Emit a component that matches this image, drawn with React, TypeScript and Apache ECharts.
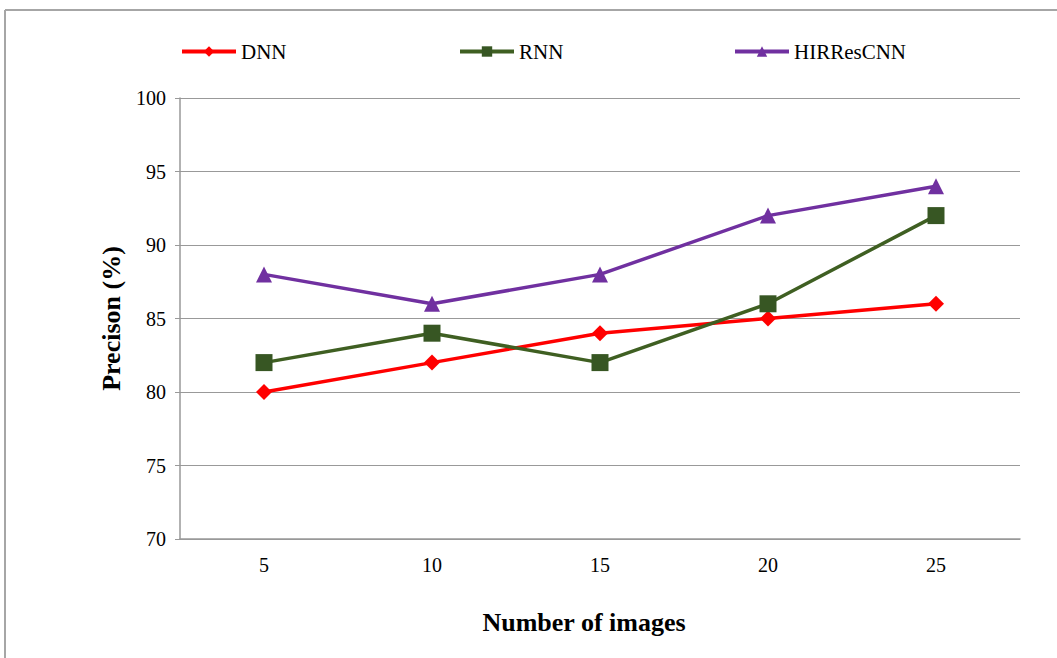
import React, { useEffect, useRef } from "react";
import * as echarts from "echarts";

const categories = ["5", "10", "15", "20", "25"];
const dnn = [80, 82, 84, 85, 86];
const rnn = [82, 84, 82, 86, 92];
const hir = [88, 86, 88, 92, 94];
const seriesNames = ["DNN", "RNN", "HIRResCNN"];

const FONT = "'Liberation Serif', 'Times New Roman', serif";

export default function App() {
  const ref = useRef<HTMLDivElement>(null);
  useEffect(() => {
    const chart = echarts.init(ref.current!, null, { renderer: "svg" });
    const legendBase = {
      itemWidth: 54,
      itemHeight: 13,
      top: 41,
      padding: 0,
      lineStyle: { width: 4 },
      textStyle: { fontFamily: FONT, fontSize: 21, color: "#000" },
      itemGap: 4,
    };
    chart.setOption({
      animation: false,
      backgroundColor: "#fff",
      textStyle: { fontFamily: FONT },
      graphic: [
        { type: "line", shape: { x1: 5, y1: 10, x2: 1057, y2: 10 }, style: { stroke: "#a6a6a6", lineWidth: 2 } },
        { type: "line", shape: { x1: 5, y1: 10, x2: 5, y2: 658 }, style: { stroke: "#a6a6a6", lineWidth: 2 } },
      ],
      legend: [
        { ...legendBase, left: 180, data: [seriesNames[0]] },
        { ...legendBase, left: 458, data: [seriesNames[1]] },
        { ...legendBase, left: 733, data: [seriesNames[2]] },
      ],
      grid: { left: 180, right: 37, top: 98, bottom: 119 },
      xAxis: {
        type: "category",
        data: categories,
        boundaryGap: true,
        axisLine: { lineStyle: { color: "#999", width: 1.5 } },
        axisTick: { show: false },
        axisLabel: { fontFamily: FONT, fontSize: 20, color: "#000", margin: 16 },
        name: "Number of images",
        nameLocation: "middle",
        nameGap: 70,
        nameTextStyle: { fontFamily: FONT, fontSize: 26, fontWeight: "bold", color: "#000", padding: [0, 32, 0, 0] },
      },
      yAxis: {
        type: "value",
        min: 70,
        max: 100,
        interval: 5,
        axisLine: { show: true, lineStyle: { color: "#999", width: 1.5 } },
        axisTick: { show: true, length: 5, lineStyle: { color: "#999" } },
        splitLine: { lineStyle: { color: "#999", width: 1 } },
        axisLabel: { fontFamily: FONT, fontSize: 20, color: "#000", margin: 14 },
        name: "Precison (%)",
        nameLocation: "middle",
        nameGap: 56,
        nameTextStyle: { fontFamily: FONT, fontSize: 26, fontWeight: "bold", color: "#000" },
      },
      series: [
        {
          name: seriesNames[0],
          type: "line",
          data: dnn,
          symbol: "diamond",
          symbolSize: 16,
          itemStyle: { color: "#ff0000" },
          lineStyle: { color: "#ff0000", width: 3.5 },
        },
        {
          name: seriesNames[1],
          type: "line",
          data: rnn,
          symbol: "rect",
          symbolSize: 17,
          itemStyle: { color: "#375623" },
          lineStyle: { color: "#3f5f22", width: 3.5 },
        },
        {
          name: seriesNames[2],
          type: "line",
          data: hir,
          symbol: "triangle",
          symbolSize: 16,
          itemStyle: { color: "#7030a0" },
          lineStyle: { color: "#7030a0", width: 3.5 },
        },
      ],
    });
    return () => chart.dispose();
  }, []);
  return (
    <div
      ref={ref}
      style={{ position: "absolute", left: 0, top: 0, width: 1057, height: 658 }}
    />
  );
}
